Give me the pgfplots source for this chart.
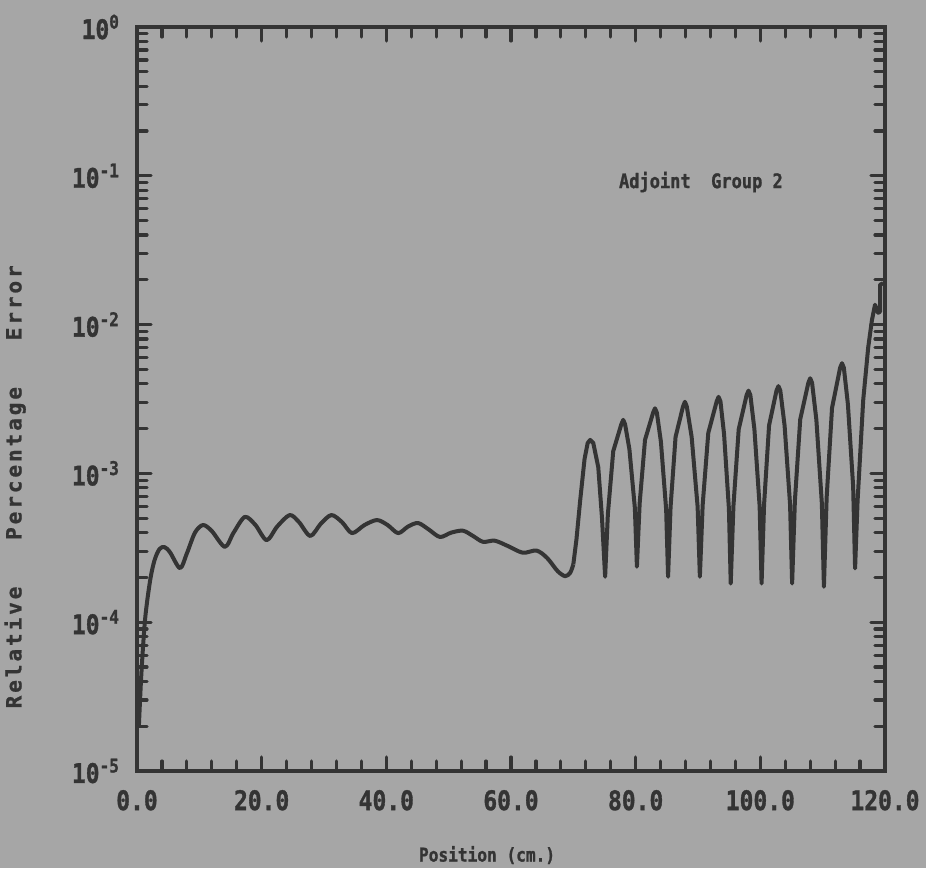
\documentclass[border=0pt]{standalone}
\usepackage{fontspec}
\setmainfont{DejaVu Sans Mono}
\newfontfamily\plotfont[FakeStretch=0.85, BoldFeatures={FakeBold=1.2}]{DejaVu Sans Mono}
\newfontfamily\labelfont[LetterSpace=14, BoldFeatures={FakeBold=1.0}]{DejaVu Sans Mono}
\usepackage{pgfplots}
\pgfplotsset{compat=1.18}
\definecolor{paper}{RGB}{166,166,166}
\definecolor{ink}{RGB}{52,52,52}

\begin{document}
\begin{tikzpicture}
\useasboundingbox[fill=paper] (0,0) rectangle (463pt,434pt);
\begin{axis}[
  at={(68.5pt,48.5pt)}, anchor=south west,
  scale only axis, width=374pt, height=372pt,
  xmin=0, xmax=120, ymode=log, ymin=1e-5, ymax=1,
  xtick={0,20,...,120}, minor x tick num=4,
  xticklabels={0.0,20.0,40.0,60.0,80.0,100.0,120.0},
  ytick={1e-5,1e-4,1e-3,1e-2,1e-1,1},
  yticklabels={10\textsuperscript{-5},10\textsuperscript{-4},10\textsuperscript{-3},10\textsuperscript{-2},10\textsuperscript{-1},10\textsuperscript{0}},
  axis line style={ink, line width=2pt},
  every tick/.style={ink, line width=1.6pt, line cap=round},
  major tick length=7pt, minor tick length=5pt,
  tick label style={font=\plotfont\bfseries\fontsize{13.5}{13.5}\selectfont, text=ink},
  xticklabel style={yshift=-6pt},
  yticklabel style={xshift=-5pt},
  clip=false,
]
% smooth ripple region
\addplot[ink, line width=2pt, smooth, tension=0.5, line join=round] coordinates {
(0.3,2.0e-5) (0.7,4.5e-5) (1.3,1.05e-4) (2.1,1.9e-4) (2.8,2.6e-4) (3.6,3.1e-4)
(4.4,3.2e-4) (5.3,2.95e-4) (6.9,2.31e-4) (8.0,2.9e-4) (9.3,4.0e-4) (10.6,4.5e-4)
(12.0,4.1e-4) (14.1,3.21e-4) (15.5,4.0e-4) (17.3,5.1e-4) (19.0,4.5e-4) (20.8,3.56e-4)
(22.5,4.4e-4) (24.5,5.25e-4) (26.0,4.7e-4) (27.8,3.8e-4) (29.5,4.6e-4) (31.2,5.25e-4)
(32.9,4.7e-4) (34.5,3.97e-4) (36.5,4.5e-4) (38.5,4.86e-4) (40.2,4.5e-4) (41.9,3.97e-4)
(43.5,4.4e-4) (45.1,4.64e-4) (46.8,4.2e-4) (48.6,3.74e-4) (50.4,4.0e-4) (52.3,4.12e-4)
(53.9,3.8e-4) (55.5,3.47e-4) (57.4,3.53e-4) (59.5,3.25e-4) (61.9,2.93e-4) (64.1,3.03e-4)
(65.8,2.7e-4) (67.5,2.2e-4) (68.7,2.04e-4) (69.5,2.15e-4) (70.0,2.45e-4)
};
% spiky region
\addplot[ink, line width=2pt, line join=round] coordinates {
(70.0,2.45e-4) (70.5,3.6e-4) (71.1,6.6e-4) (71.8,1.25e-3) (72.3,1.6e-3) (72.7,1.68e-3)
(73.2,1.6e-3) (74.0,1.1e-3) (74.6,5.0e-4) (75.1,2.02e-4)
(75.54,5.33e-4) (76.4,1.41e-3) (77.7,2.14e-3) (78.0,2.29e-3) (78.3,2.14e-3) (78.99,1.46e-3) (79.87,5.86e-4) (80.2,2.36e-4)
(80.64,6.30e-4) (81.5,1.68e-3) (82.8,2.56e-3) (83.1,2.74e-3) (83.4,2.56e-3) (84.05,1.63e-3) (84.89,5.73e-4) (85.2,2.02e-4)
(85.6,5.96e-4) (86.4,1.76e-3) (87.6,2.82e-3) (87.9,3.03e-3) (88.2,2.82e-3) (88.98,1.76e-3) (89.94,5.96e-4) (90.3,2.02e-4)
(90.75,6.15e-4) (91.65,1.87e-3) (93.0,3.05e-3) (93.3,3.27e-3) (93.6,3.05e-3) (94.18,1.84e-3) (94.96,5.78e-4) (95.25,1.82e-4)
(95.68,6.00e-4) (96.53,1.98e-3) (97.8,3.36e-3) (98.1,3.60e-3) (98.4,3.36e-3) (99.05,1.98e-3) (99.89,6.00e-4) (100.2,1.82e-4)
(100.6,6.18e-4) (101.4,2.10e-3) (102.6,3.61e-3) (102.9,3.86e-3) (103.2,3.61e-3) (103.89,2.10e-3) (104.77,6.18e-4) (105.1,1.82e-4)
(105.54,6.49e-4) (106.4,2.31e-3) (107.7,4.06e-3) (108.0,4.36e-3) (108.3,4.06e-3) (108.99,2.29e-3) (109.87,6.28e-4) (110.2,1.73e-4)
(110.64,6.90e-4) (111.5,2.75e-3) (112.8,5.13e-3) (113.1,5.50e-3) (113.4,5.13e-3) (114.05,2.91e-3) (114.89,8.18e-4) (115.2,2.30e-4)
(115.6,6.5e-4) (116.5,3.1e-3) (117.3,7.0e-3) (117.9,1.07e-2) (118.4,1.36e-2) (118.9,1.20e-2) (119.2,1.22e-2) (119.2,1.85e-2) (119.7,1.9e-2)
};
\node[anchor=west, font=\plotfont\bfseries\fontsize{10}{10}\selectfont, text=ink] at (axis cs:76.2,0.0908) {Adjoint\ \ Group 2};
\node[font=\plotfont\bfseries\fontsize{9.5}{9.5}\selectfont, text=ink] at (axis description cs:0.468,-0.113) {Position (cm.)};
\node[rotate=90, font=\labelfont\bfseries\fontsize{10.5}{10.5}\selectfont, text=ink] at (axis description cs:-0.163,0.382) {Relative\ \ \ Percentage\ \ \ Error};
\end{axis}
\end{tikzpicture}
\end{document}
